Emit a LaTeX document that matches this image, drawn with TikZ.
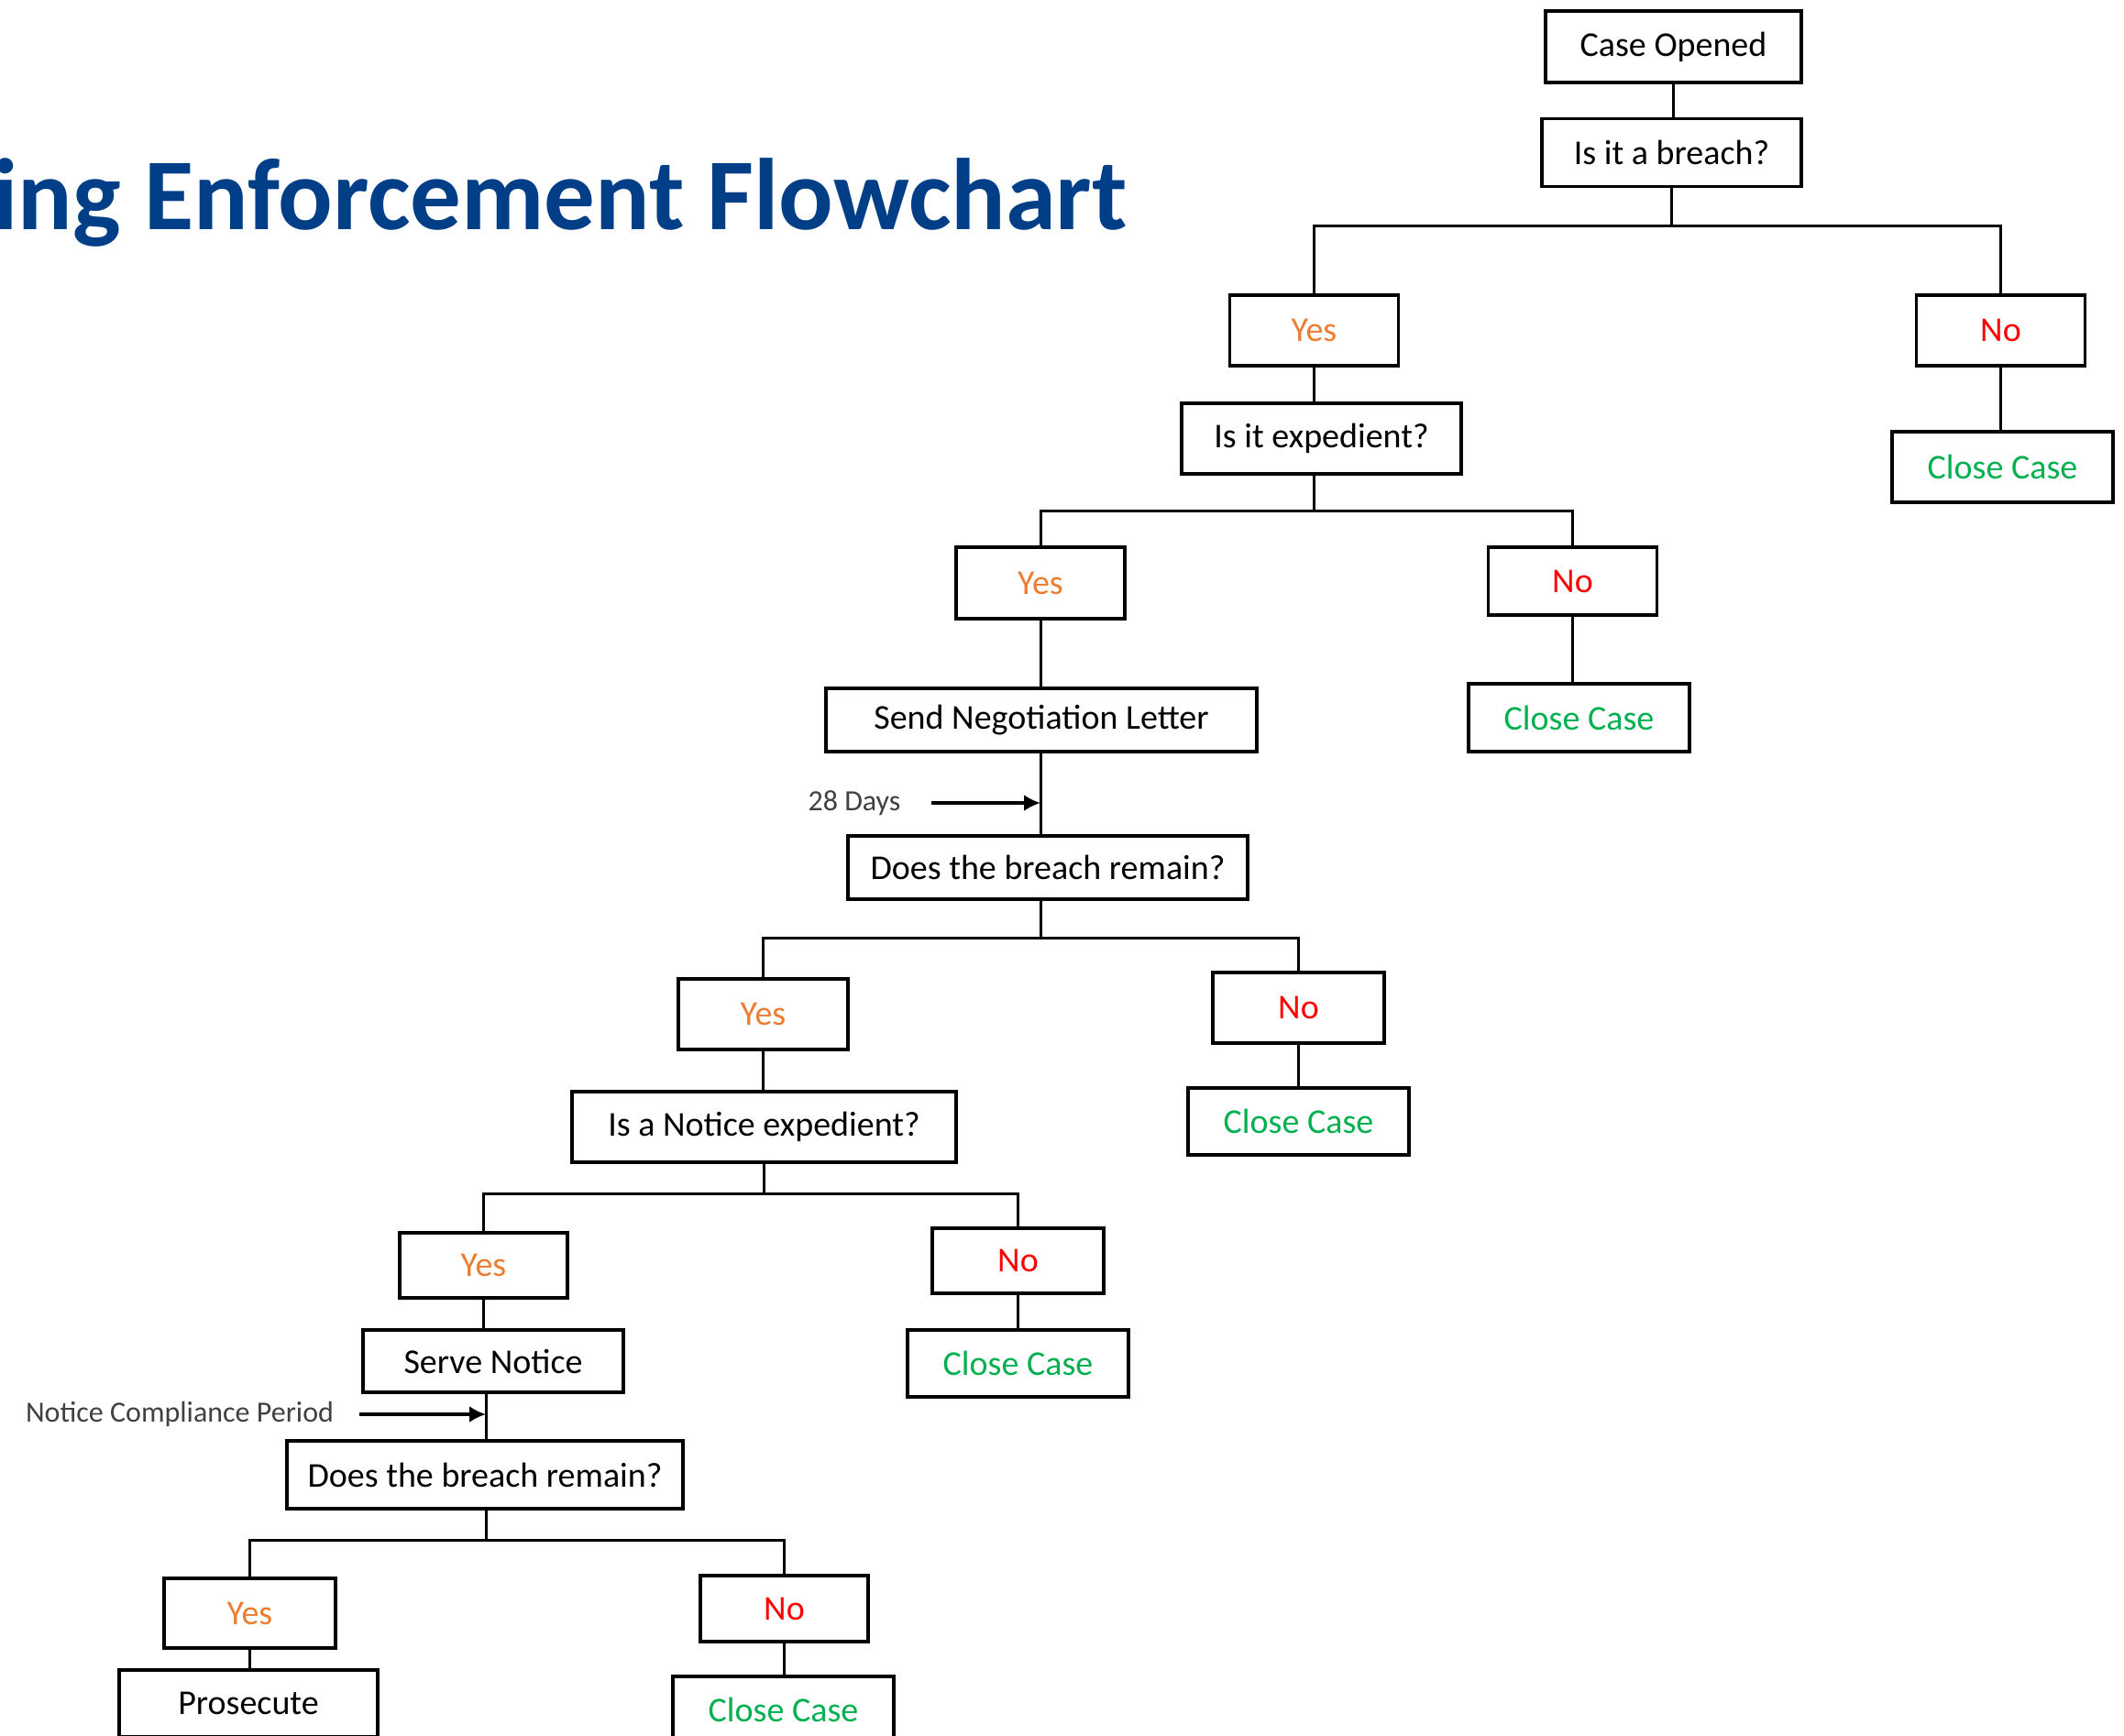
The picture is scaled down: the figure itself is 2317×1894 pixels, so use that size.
\documentclass[tikz,border=0pt]{standalone}
\usepackage{fontspec}
\setmainfont{Carlito}
\usetikzlibrary{arrows.meta}
\definecolor{titleblue}{RGB}{0,63,135}
\definecolor{yesorange}{RGB}{237,125,49}
\definecolor{nored}{RGB}{255,0,0}
\definecolor{closegreen}{RGB}{0,176,80}
\definecolor{notegray}{RGB}{64,64,64}

\begin{document}
\begin{tikzpicture}[x=0.5pt,y=-0.5pt,
  box/.style={draw, line width=1.6pt, minimum height=37pt, inner sep=0pt,
    font=\fontsize{19}{23}\selectfont},
  yes/.style={box, text=yesorange, minimum width=92pt},
  no/.style={box, text=nored, minimum width=92pt},
  close/.style={box, text=closegreen, minimum width=120.5pt},
  link/.style={line width=1.5pt},
  note/.style={text=notegray, inner sep=0pt, font=\fontsize{16}{19}\selectfont},
  arr/.style={line width=1.6pt, -{Latex[length=9pt,width=9pt]}}]
\clip (0,0) rectangle (2317,1894);
\fill[white] (0,0) rectangle (2317,1894);

% title
\node[anchor=base west, inner sep=0pt, text=titleblue,
  font=\fontsize{55.5}{60}\selectfont\bfseries] (title) at (-8,250) {ing Enforcement Flowchart};

% top
\node[box, minimum width=139.5pt, minimum height=39pt] (open) at (1825.5,51) {Case Opened};
\node[box, minimum width=141.5pt] (breach) at (1823.5,166.5) {Is it a breach?};
\node[yes, minimum height=38.5pt] (yesA) at (1433.5,360.5) {Yes};
\node[no, minimum height=38.5pt] (noA) at (2182.5,360.5) {No};
\node[box, minimum width=152.5pt, minimum height=38.5pt] (expA) at (1441.5,478.5) {Is it expedient?};
\node[close, minimum height=38.5pt] (closeA) at (2184.5,509.5) {Close Case};

% negotiation
\node[yes, minimum height=39pt] (yesB) at (1135,636) {Yes};
\node[no] (noB) at (1715.5,634) {No};
\node[box, minimum width=235pt, minimum height=34.5pt] (send) at (1136,785.5) {Send Negotiation Letter};
\node[close] (closeB) at (1722.5,783) {Close Case};
\node[note] (days) at (932,876) {28 Days};
\node[box, minimum width=218pt, minimum height=34.5pt] (remainA) at (1143,946.5) {Does the breach remain?};

% notice
\node[yes, minimum width=92.5pt, minimum height=38.5pt] (yesC) at (832.5,1106.5) {Yes};
\node[no, minimum width=93.5pt, minimum height=38.5pt] (noC) at (1416.5,1099.5) {No};
\node[box, minimum width=209.5pt, minimum height=38.5pt] (notice) at (833.5,1229.5) {Is a Notice expedient?};
\node[close, minimum height=36.5pt] (closeC) at (1416.5,1223.5) {Close Case};
\node[yes, minimum width=91.5pt, minimum height=35.5pt] (yesD) at (527.5,1380.5) {Yes};
\node[no, minimum width=93.5pt, minimum height=35.5pt] (noD) at (1110.5,1375.5) {No};
\node[box, minimum width=142pt, minimum height=34pt] (serve) at (538,1485) {Serve Notice};
\node[close, minimum height=36.5pt] (closeD) at (1110.5,1487.5) {Close Case};
\node[note] (ncp) at (196,1543) {Notice Compliance Period};
\node[box, minimum width=216pt] (remainB) at (529,1609) {Does the breach remain?};

% bottom
\node[yes, minimum width=93.5pt, minimum height=38pt] (yesE) at (272.5,1760) {Yes};
\node[no, minimum width=91.5pt, minimum height=36pt] (noE) at (855.5,1755) {No};
\node[box, minimum width=141pt, minimum height=36.5pt] (pros) at (271,1858.5) {Prosecute};
\node[close, minimum height=36.5pt] (closeE) at (854.5,1865.5) {Close Case};

% branch points
\coordinate (barA) at (1823,247);
\coordinate (barB) at (1433,557);
\coordinate (barC) at (1135,1023);
\coordinate (barD) at (833,1302);
\coordinate (barE) at (530,1680);

% connectors
\draw[link] (open.south) -- (open.south |- breach.north);
\draw[link] (breach.south -| barA) -- (barA) -| (yesA.north);
\draw[link] (barA) -| (noA.north);
\draw[link] (yesA.south) -- (yesA.south |- expA.north);
\draw[link] (noA.south) -- (noA.south |- closeA.north);
\draw[link] (expA.south -| barB) -- (barB) -| (yesB.north);
\draw[link] (barB) -| (noB.north);
\draw[link] (yesB.south) -- (yesB.south |- send.north);
\draw[link] (noB.south) -- (noB.south |- closeB.north);
\draw[link] (send.south -| barC) -- (barC |- remainA.north);
\draw[link] (remainA.south -| barC) -- (barC) -| (yesC.north);
\draw[link] (barC) -| (noC.north);
\draw[link] (yesC.south) -- (yesC.south |- notice.north);
\draw[link] (noC.south) -- (noC.south |- closeC.north);
\draw[link] (notice.south -| barD) -- (barD) -| (yesD.north);
\draw[link] (barD) -| (noD.north);
\draw[link] (yesD.south) -- (yesD.south |- serve.north);
\draw[link] (noD.south) -- (noD.south |- closeD.north);
\draw[link] (serve.south -| barE) -- (barE |- remainB.north);
\draw[link] (remainB.south -| barE) -- (barE) -| (yesE.north);
\draw[link] (barE) -| (noE.north);
\draw[link] (yesE.south) -- (yesE.south |- pros.north);
\draw[link] (noE.south) -- (noE.south |- closeE.north);

% waiting periods
\draw[arr] ([xshift=16.5pt]days.east) -- (days.east -| barC);
\draw[arr] ([xshift=14pt]ncp.east) -- (ncp.east -| barE);
\end{tikzpicture}
\end{document}
